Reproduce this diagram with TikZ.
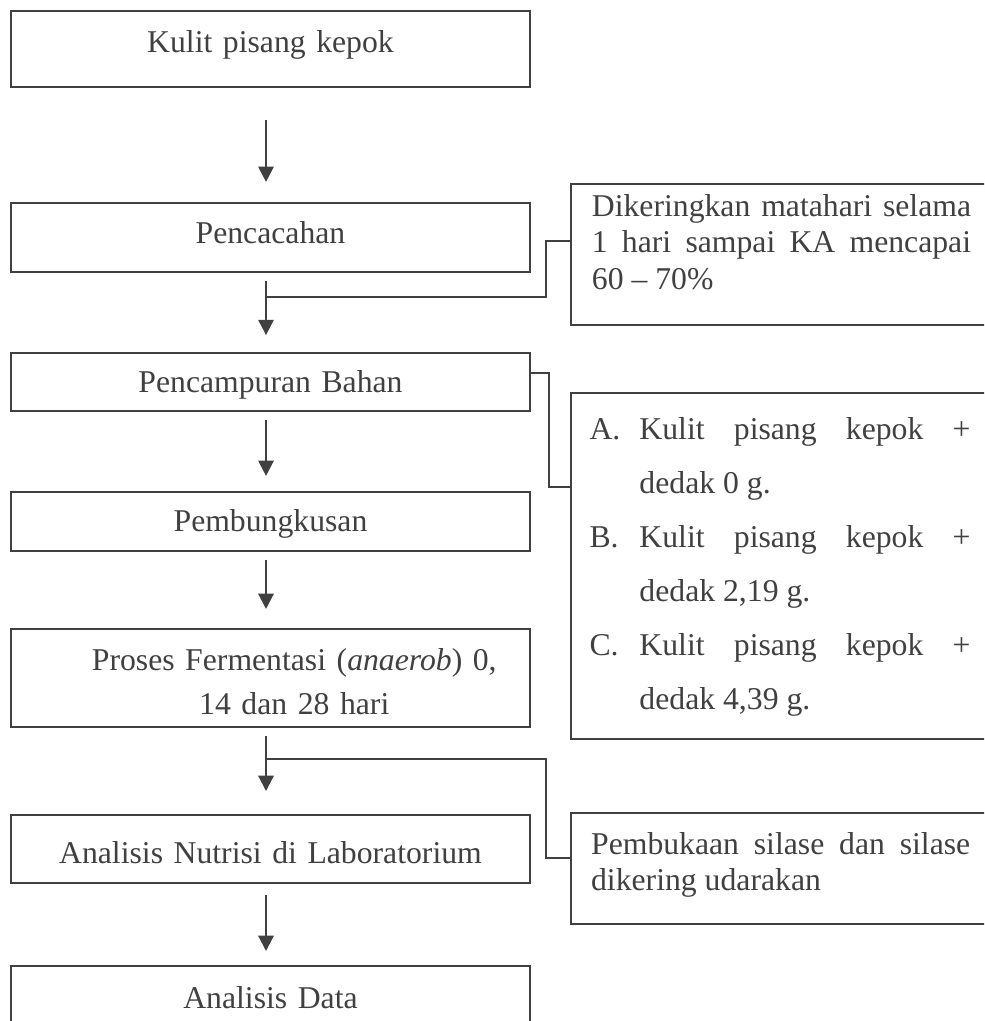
\documentclass[tikz,border=0pt]{standalone}
\usepackage{fontspec}
\setmainfont{Liberation Serif}
\usepackage{tikz}
\usetikzlibrary{arrows.meta,calc}
\tikzset {>={Triangle[length=5.8pt,width=5.8pt]}}
\definecolor{garis}{RGB}{64,64,64}
\tikzset{kotak/.style={draw=garis, line width=0.8pt, inner ysep=0pt, anchor=north},
  kiri/.style={kotak, inner xsep=0pt, text width=196.4pt, align=center},
  kanan/.style={kotak, anchor=north west, align=justify},
  panah/.style={->, draw=garis, line width=0.8pt},
  hubung/.style={draw=garis, line width=0.8pt}}
\newcommand{\butir}[2]{\hangindent=18.9pt\hangafter=1\makebox[18.9pt][l]{#1}#2\par}
\hbadness=10000

\begin{document}
\begin{tikzpicture}[x=0.3785pt, y=-0.3785pt, font=\fontsize{12}{13.8}\selectfont, text=garis]
\useasboundingbox (0,0) rectangle (984,1021);
\clip (0,0) rectangle (984,1021);

\node[kiri, text height=15.5pt, text depth=13.2pt] (kulit) at (270.5,10) {Kulit pisang kepok};
\node[kiri, text height=15.4pt, text depth=10.7pt] (cacah) at (270.5,202) {Pencacahan};
\node[kiri, text height=14.8pt, text depth=7.2pt] (campur) at (270.5,352) {Pencampuran Bahan};
\node[kiri, text height=15.1pt, text depth=7.2pt] (bungkus) at (270.5,491) {Pembungkusan};
\node[kiri, text height=15.5pt, text depth=21.6pt, font=\fontsize{12}{17}\selectfont] (fermen) at (270.5,628)
  {\hspace*{18pt}Proses Fermentasi (\textit{anaerob}) 0,\\ \hspace*{18pt}14 dan 28 hari};
\node[kiri, text height=18.2pt, text depth=7.6pt] (nutrisi) at (270.5,814) {Analisis Nutrisi di Laboratorium};
\node[kiri, text height=15.9pt, text depth=22.7pt] (data) at (270.5,965) {Analisis Data};

\node[kanan, inner xsep=7.9pt, text width=143.5pt, text height=12.2pt, text depth=41.2pt] (kering) at (570,183)
  {Dikeringkan matahari selama\linebreak 1 hari sampai KA mencapai\linebreak 60 -- 70\%};
\node[kanan, inner xsep=7pt, text width=144.2pt, text height=17.4pt, text depth=113.6pt,
  font=\fontsize{12}{20.5}\selectfont] (perlakuan) at (570,392)
  {\butir{A.}{Kulit pisang kepok +\linebreak dedak 0 g.}%
   \butir{B.}{Kulit pisang kepok +\linebreak dedak 2,19 g.}%
   \butir{C.}{Kulit pisang kepok +\linebreak dedak 4,39 g.}};
\node[kanan, inner xsep=7.6pt, text width=143.5pt, text height=15.5pt, text depth=26.5pt] (buka) at (570,812)
  {Pembukaan silase dan silase\linebreak dikering udarakan};

\coordinate (j1) at (266,297);
\coordinate (j2) at (266,759);

\draw[panah, shorten <=12.1pt, shorten >=7.6pt] ([xshift=-1.7pt]kulit.south) -- ([xshift=-1.7pt]cacah.north);
\draw[panah, shorten <=3pt, shorten >=6.4pt] ([xshift=-1.7pt]cacah.south) -- ([xshift=-1.7pt]campur.north);
\draw[panah, shorten <=3pt, shorten >=5.7pt] ([xshift=-1.7pt]campur.south) -- ([xshift=-1.7pt]bungkus.north);
\draw[panah, shorten <=3pt, shorten >=7.2pt] ([xshift=-1.7pt]bungkus.south) -- ([xshift=-1.7pt]fermen.north);
\draw[panah, shorten <=3pt, shorten >=8.7pt] ([xshift=-1.7pt]fermen.south) -- ([xshift=-1.7pt]nutrisi.north);
\draw[panah, shorten <=4.2pt, shorten >=5.3pt] ([xshift=-1.7pt]nutrisi.south) -- ([xshift=-1.7pt]data.north);

\draw[hubung] ($(kering.west)+(0,-13.5)$) -- ++(-24,0) |- (j1);
\draw[hubung] ($(campur.north east)+(0,21)$) -- ++(18,0) |- ($(perlakuan.north west)+(0,95)$);
\draw[hubung] (j2) -| ($(buka.north west)+(-24,46)$) -- ($(buka.north west)+(0,46)$);
\end{tikzpicture}
\end{document}
